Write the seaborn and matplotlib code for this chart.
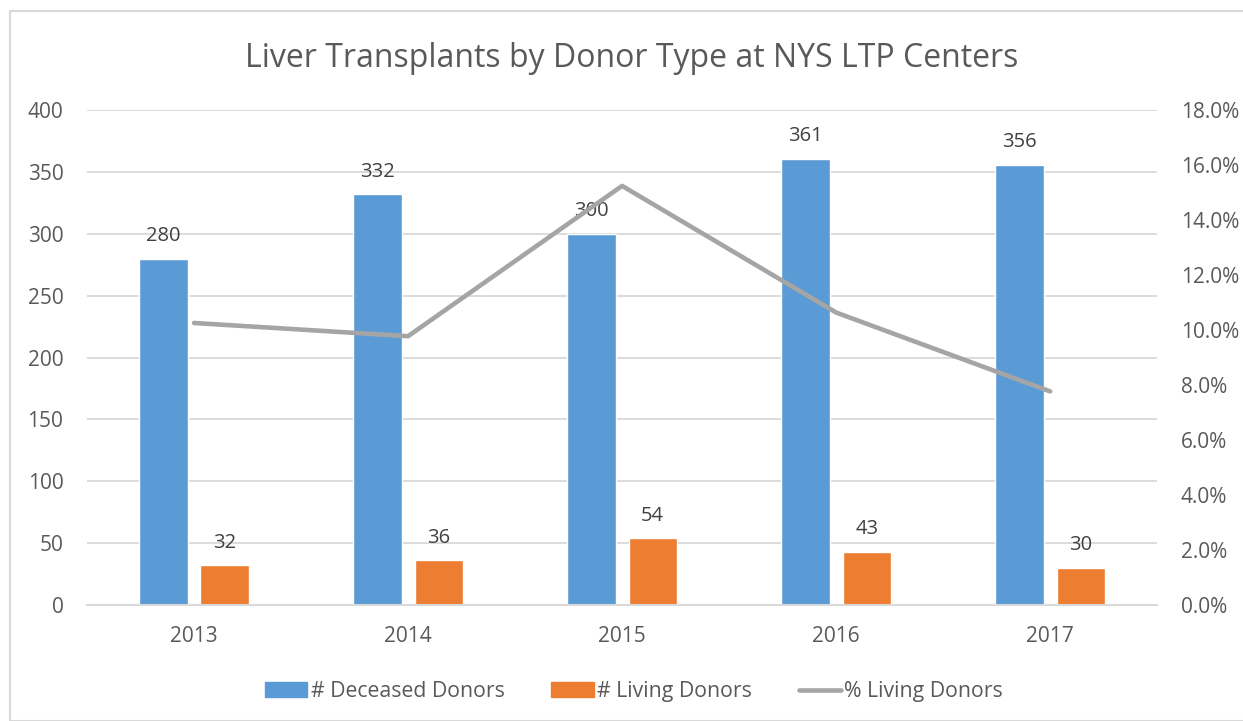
import matplotlib
matplotlib.use("Agg")
import matplotlib.pyplot as plt
import matplotlib.patches as mpatches
from matplotlib.lines import Line2D
from matplotlib.ticker import FuncFormatter, MultipleLocator
import numpy as np
import pandas as pd
import seaborn as sns

years = ["2013", "2014", "2015", "2016", "2017"]
deceased = [280, 332, 300, 361, 356]
living = [32, 36, 54, 43, 30]
pct_living = [0.1026, 0.0978, 0.1525, 0.1064, 0.0777]

series_names = ["# Deceased Donors", "# Living Donors", "% Living Donors"]
title = "Liver Transplants by Donor Type at NYS LTP Centers"

BLUE = "#5B9BD5"
ORANGE = "#ED7D31"
GREY = "#A5A5A5"
TEXT = "#595959"
GRID = "#D9D9D9"

sns.set_theme(style="white")
plt.rcParams["font.family"] = ["Open Sans", "DejaVu Sans"]

df = pd.DataFrame({
    "year": years * 2,
    "donor": [series_names[0]] * len(years) + [series_names[1]] * len(years),
    "count": deceased + living,
})

fig = plt.figure(figsize=(12.43, 7.21), dpi=100)
ax = fig.add_axes([0.070, 0.161, 0.861, 0.686])

sns.barplot(
    data=df, x="year", y="count", hue="donor",
    hue_order=series_names[:2], palette=[BLUE, ORANGE],
    width=0.572, gap=0.21, saturation=1, ax=ax, legend=False,
)
for cont in ax.containers:
    ax.bar_label(cont, padding=9, fontsize=14.5, color="#404040")

ax.set_ylim(0, 400)
ax.yaxis.set_major_locator(MultipleLocator(50))
ax.set_xlim(-0.5, len(years) - 0.5)
ax.set_xlabel("")
ax.set_ylabel("")
ax.grid(axis="y", color=GRID, linewidth=1.3)
ax.set_axisbelow(True)
for side in ["top", "left", "right"]:
    ax.spines[side].set_visible(False)
ax.spines["bottom"].set_color(GRID)
ax.spines["bottom"].set_linewidth(1.5)
ax.tick_params(axis="y", length=0, pad=17, labelsize=15, labelcolor=TEXT)
ax.tick_params(axis="x", length=0, pad=15, labelsize=15, labelcolor=TEXT)

ax2 = ax.twinx()
sns.lineplot(x=np.arange(len(years)), y=pct_living, color=GREY,
             linewidth=3.3, ax=ax2, legend=False)
ax2.set_ylim(0, 0.18)
ax2.yaxis.set_major_locator(MultipleLocator(0.02))
ax2.yaxis.set_major_formatter(FuncFormatter(lambda v, p: f"{v * 100:.1f}%"))
ax2.tick_params(axis="y", length=0, pad=17, labelsize=15, labelcolor=TEXT)
for side in ["top", "left", "right", "bottom"]:
    ax2.spines[side].set_visible(False)
ax2.set_ylabel("")

fig.text(0.508, 0.919, title, ha="center", va="center", fontsize=23, color=TEXT)

handles = [
    mpatches.Patch(color=BLUE),
    mpatches.Patch(color=ORANGE),
    Line2D([0], [0], color=GREY, linewidth=3.3),
]
fig.legend(handles, series_names, loc="center", bbox_to_anchor=(0.510, 0.041),
           ncol=3, frameon=False, fontsize=15.3, labelcolor=TEXT,
           handlelength=2.0, handletextpad=0.15, columnspacing=2.2)

# light chart-area border
fig.patches.append(mpatches.Rectangle(
    (10 / 1243, 0), 1.0, 1 - 11 / 721, transform=fig.transFigure,
    fill=False, edgecolor=GRID, linewidth=1.5))

fig.savefig("out.png", dpi=100)
